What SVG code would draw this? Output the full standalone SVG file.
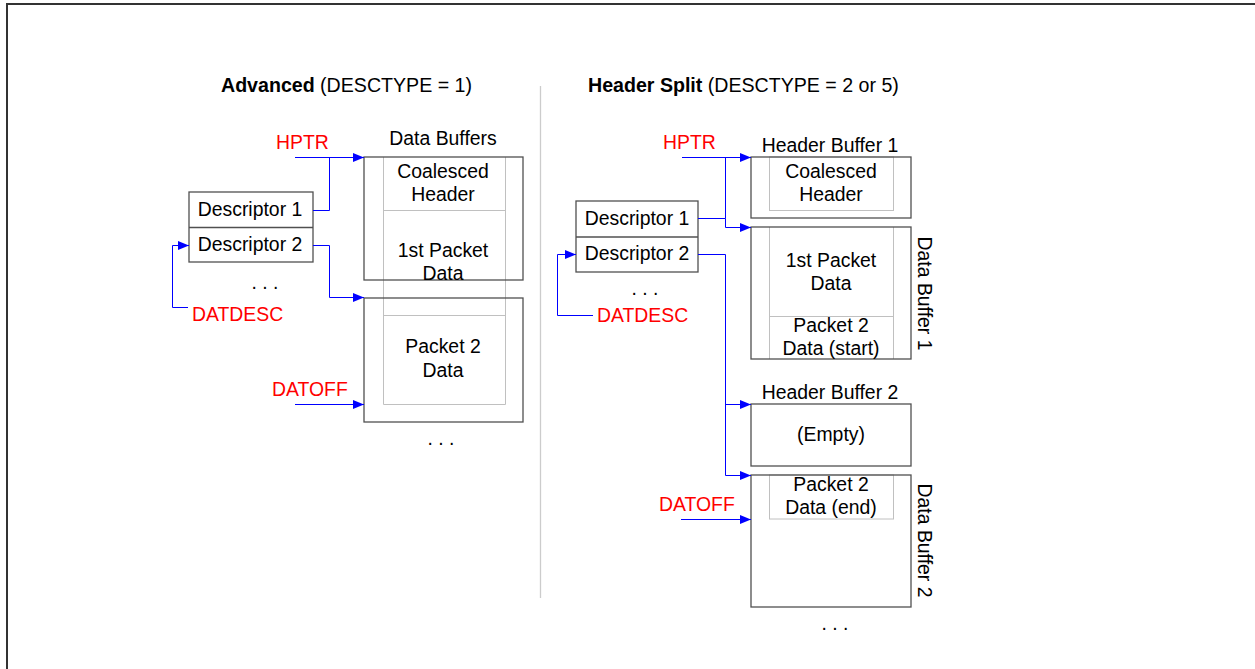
<svg xmlns="http://www.w3.org/2000/svg" width="1255" height="669" viewBox="0 0 1255 669">
<defs>
<marker id="arr" markerUnits="userSpaceOnUse" markerWidth="11" markerHeight="10" refX="11" refY="4.5" orient="auto">
<path d="M0,0 L11,4.5 L0,9 z" fill="#0000ff"/>
</marker>
</defs>
<style>
text{font-family:"Liberation Sans",Arial,sans-serif;font-size:19.4px;fill:#000}
.t{font-size:19.6px}
.c{text-anchor:middle}
.red{fill:#ff0000}
.b{font-weight:bold}
.box{fill:none;stroke:#505050;stroke-width:1.3}
.inner{fill:none;stroke:#c0c0c0;stroke-width:1}
.con{fill:none;stroke:#0000ff;stroke-width:1}
.arr{marker-end:url(#arr)}
</style>
<rect width="1255" height="669" fill="#fff"/>
<path d="M7,669 V4 H1255" fill="none" stroke="#333" stroke-width="2"/>
<line x1="540.5" y1="86" x2="540.5" y2="598" stroke="#cccccc" stroke-width="1.3"/>

<g id="title-left"><text class="t" x="221" y="92"><tspan class="b">Advanced</tspan> (DESCTYPE = 1)</text></g>
<g id="title-right"><text class="t" x="588" y="92"><tspan class="b">Header Split</tspan> (DESCTYPE = 2 or 5)</text></g>

<!-- Left side -->
<g id="L-descriptors">
<rect class="box" x="189" y="192" width="124" height="70"/>
<line class="box" x1="189" y1="227.5" x2="313" y2="227.5"/>
<text class="c" x="250" y="216">Descriptor 1</text>
<text class="c" x="250" y="251">Descriptor 2</text>
<text class="c" x="265" y="289">. . .</text>
</g>
<g id="L-labels">
<text class="red" x="276" y="149">HPTR</text>
<text class="red" x="192" y="321">DATDESC</text>
<text class="red" x="272" y="396">DATOFF</text>
<text class="c" x="443" y="145">Data Buffers</text>
</g>
<g id="L-inner">
<path class="inner" d="M383.5,157 V404.5 M505.5,157 V404.5 M383.5,210.5 H505.5 M383.5,315.5 H505.5 M383.5,404.5 H505.5"/>
</g>
<g id="L-buffer1">
<rect class="box" x="364" y="157" width="159" height="123"/>
<text class="c" x="443" y="178">Coalesced</text>
<text class="c" x="443" y="201">Header</text>
<text class="c" x="443" y="257">1st Packet</text>
<text class="c" x="443" y="280">Data</text>
</g>
<g id="L-buffer2">
<rect class="box" x="364" y="298" width="159" height="124"/>
<text class="c" x="443" y="353">Packet 2</text>
<text class="c" x="443" y="377">Data</text>
<text class="c" x="441" y="445">. . .</text>
</g>

<!-- Right side -->
<g id="R-descriptors">
<rect class="box" x="576" y="201" width="122" height="71"/>
<line class="box" x1="576" y1="237" x2="698" y2="237"/>
<text class="c" x="637" y="225">Descriptor 1</text>
<text class="c" x="637" y="260">Descriptor 2</text>
<text class="c" x="645" y="295">. . .</text>
</g>
<g id="R-labels">
<text class="red" x="663" y="149">HPTR</text>
<text class="red" x="597" y="322">DATDESC</text>
<text class="red" x="659" y="511">DATOFF</text>
</g>
<g id="R-header1">
<text class="c" x="830" y="152">Header Buffer 1</text>
<rect class="inner" x="769.5" y="157" width="124" height="53.5"/>
<rect class="box" x="751" y="157" width="160" height="61"/>
<text class="c" x="831" y="178">Coalesced</text>
<text class="c" x="831" y="201">Header</text>
</g>
<g id="R-data1">
<path class="inner" d="M769.5,227 V359 M893.5,227 V359 M769.5,316.5 H893.5"/>
<rect class="box" x="751" y="227" width="160" height="132"/>
<text class="c" x="831" y="267">1st Packet</text>
<text class="c" x="831" y="290">Data</text>
<text class="c" x="831" y="332">Packet 2</text>
<text class="c" x="831" y="355">Data (start)</text>
<text class="c" transform="translate(918,293.5) rotate(90)">Data Buffer 1</text>
</g>
<g id="R-header2">
<text class="c" x="830" y="399">Header Buffer 2</text>
<rect class="box" x="751" y="404" width="160" height="62"/>
<text class="c" x="831" y="441">(Empty)</text>
</g>
<g id="R-data2">
<rect class="inner" x="769.5" y="475" width="124" height="44"/>
<rect class="box" x="751" y="475" width="160" height="132"/>
<text class="c" x="831" y="491">Packet 2</text>
<text class="c" x="831" y="514">Data (end)</text>
<text class="c" transform="translate(918,540.5) rotate(90)">Data Buffer 2</text>
<text class="c" x="835" y="630">. . .</text>
</g>

<g id="connectors">
<!-- left -->
<path class="con arr" d="M295,157.5 H364"/>
<path class="con" d="M313,210.5 H329.5 V157.5"/>
<path class="con arr" d="M313,245.5 H329.5 V297.5 H364"/>
<path class="con arr" d="M188,307.5 H172.5 V245.5 H189"/>
<path class="con arr" d="M295,404.5 H364"/>
<!-- right -->
<path class="con arr" d="M682,157.5 H751"/>
<path class="con arr" d="M698,218.5 H725.5 V227.5 H751"/>
<path class="con" d="M725.5,157.5 V218.5"/>
<path class="con arr" d="M698,254.5 H725.5 V475.5 H751"/>
<path class="con arr" d="M725.5,404.5 H751"/>
<path class="con arr" d="M593,315.5 H557.5 V254.5 H576"/>
<path class="con arr" d="M681,519.5 H751"/>
</g>
</svg>
